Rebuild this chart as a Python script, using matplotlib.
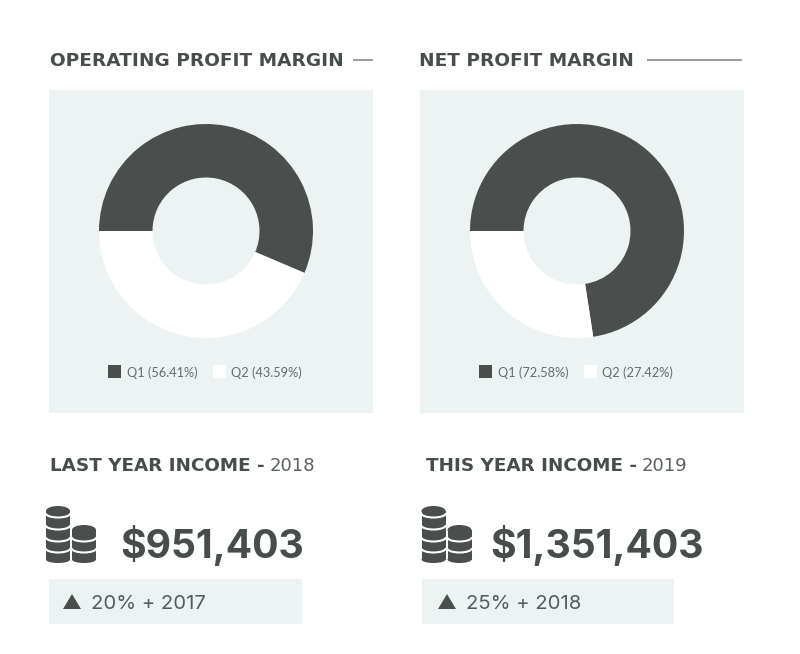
"""Two profit margin donuts with income summaries underneath."""
import matplotlib
matplotlib.use("Agg")
import matplotlib.pyplot as plt
from matplotlib.patches import Arc, Ellipse, Polygon, Rectangle

# ==== chart values ====
TITLES = ["OPERATING PROFIT MARGIN", "NET PROFIT MARGIN"]
Q1_SHARE = [56.41, 72.58]
Q2_SHARE = [43.59, 27.42]
INCOME_LABELS = ["LAST YEAR INCOME - ", "THIS YEAR INCOME - "]
INCOME_YEARS = ["2018", "2019"]
INCOME_VALUES = ["$951,403", "$1,351,403"]
GROWTH_LABELS = ["20% + 2017", "25% + 2018"]
# ======================

DARK = "#4a4f4e"
TEXT = "#474c4c"
PANEL = "#edf2f2"
RULE = "#9b9b9b"
W, H = 800, 654

fig = plt.figure(figsize=(W / 100, H / 100), dpi=100, facecolor="white")
canvas = fig.add_axes([0, 0, 1, 1])
canvas.set_xlim(0, W)
canvas.set_ylim(H, 0)
canvas.axis("off")


def donut(center_x, center_y, radius, q1, q2):
    ax = fig.add_axes([(center_x - radius) / W, 1 - (center_y + radius) / H,
                       2 * radius / W, 2 * radius / H])
    ax.pie([q1, q2], colors=[DARK, "white"], startangle=180, counterclock=False,
           radius=1, wedgeprops={"width": 0.5, "linewidth": 0})
    ax.set_xlim(-1, 1)
    ax.set_ylim(-1, 1)
    ax.set_aspect("auto")


def coin_stack(cx, top, bottom, gaps):
    # solid cylinder, white curves mark the separate coins
    canvas.add_patch(Rectangle((cx - 12, top + 5), 24, bottom - top - 8, fc=DARK, ec="none", zorder=3))
    canvas.add_patch(Ellipse((cx, bottom - 3.5), 24, 7, fc=DARK, ec="none", zorder=3))
    for gy in gaps:
        canvas.add_patch(Arc((cx, gy), 25, 9, theta1=0, theta2=180, color="white", lw=1.5, zorder=4))
    canvas.add_patch(Ellipse((cx, top + 5), 24, 10, fc=DARK, ec="none", zorder=5))


panel_x = [49, 420]
rule_x = [(353, 373), (647, 742)]
title_x = [50, 419]
donut_x = [206, 577]
legend_x = [108, 479]
income_x = [50, 426]
coin_x = [46, 421.5]
value_x = [120, 490]
box_x = [(49, 302), (422, 674)]
tri_x = [72, 447]

for i in range(2):
    canvas.text(title_x[i], 59, TITLES[i], family="DejaVu Sans", weight="bold", fontsize=13.3,
                color=TEXT, va="center_baseline", ha="left")
    canvas.plot(rule_x[i], [60, 60], color=RULE, lw=1.4, solid_capstyle="butt")
    canvas.add_patch(Rectangle((panel_x[i], 90), 324, 323, fc=PANEL, ec="none", zorder=0))
    donut(donut_x[i], 231, 107, Q1_SHARE[i], Q2_SHARE[i])

    # legend
    lx = legend_x[i]
    canvas.add_patch(Rectangle((lx, 365), 13, 13, fc=DARK, ec="none"))
    canvas.text(lx + 19, 372.5, f"Q1 ({Q1_SHARE[i]:.2f}%)", family="Lato", fontsize=9.2,
                color="#666b6e", va="center")
    canvas.add_patch(Rectangle((lx + 105, 365), 13, 13, fc="white", ec="none"))
    canvas.text(lx + 123, 372.5, f"Q2 ({Q2_SHARE[i]:.2f}%)", family="Lato", fontsize=9.2,
                color="#666b6e", va="center")

    # income block
    lab = canvas.text(income_x[i], 464, INCOME_LABELS[i].rstrip(), family="DejaVu Sans", weight="bold",
                      fontsize=13.2, color=TEXT, va="center_baseline")
    fig.canvas.draw()
    end = lab.get_window_extent().x1
    canvas.text(end + 5, 464, INCOME_YEARS[i], family="DejaVu Sans", fontsize=13.0, color="#5b6060",
                va="center_baseline")
    coin_stack(coin_x[i] + 12, 506, 563, [513, 525, 537, 548])
    coin_stack(coin_x[i] + 38, 525, 563, [537, 548])
    canvas.text(value_x[i], 541, INCOME_VALUES[i], family="Inter", weight="bold", fontsize=28.2,
                color=TEXT, va="center_baseline")
    canvas.add_patch(Rectangle((box_x[i][0], 579), box_x[i][1] - box_x[i][0], 45, fc=PANEL, ec="none", zorder=0))
    tx = tri_x[i]
    canvas.add_patch(Polygon([(tx - 9, 609), (tx + 9, 609), (tx, 594)], fc=DARK, ec="none"))
    canvas.text(tx + 19, 602, GROWTH_LABELS[i], family="Inter", fontsize=14.6,
                color="#565b5b", va="center_baseline")

fig.savefig("out.png", dpi=100, facecolor="white")
